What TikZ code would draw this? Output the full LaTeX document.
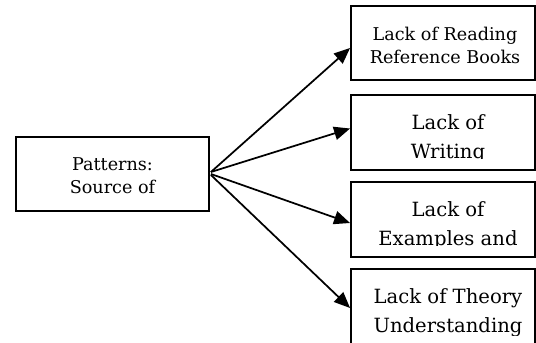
\documentclass[tikz,border=0pt]{standalone}
\usepackage{fontspec}
\setmainfont{DejaVu Serif}
\usetikzlibrary{arrows.meta,calc}
\begin{document}
\begin{tikzpicture}[x=0.75pt,y=-0.75pt,
  box/.style={draw,line width=1.4pt,minimum width=138pt,minimum height=56pt,inner sep=0pt},
  small/.style={font=\fontsize{13.2}{17.25}\selectfont,align=center,anchor=base,inner sep=0pt},
  big/.style={font=\fontsize{14.7}{21.5}\selectfont,align=center,anchor=base,inner sep=0pt},
  arr/.style={line width=1.3pt,-{Triangle[length=12pt,width=10pt]}}]
\useasboundingbox (0,0) rectangle (536,343);
% source
\node[box,minimum width=144.75pt,minimum height=55.5pt] (src) at (112.5,174) {};
\node[small] (srct) at (112.5,193) {Patterns:\\Source of};
% targets
\node[box] (b1) at (443,43) {};
\node[small] (t1) at (445,63) {Lack of Reading\\Reference Books};
\node[box] (b2) at (443,132.5) {};
\begin{scope}
  \clip (351,95) rectangle (535,158);
  \node[big] (t2) at (448,158.5) {Lack of\\Writing};
\end{scope}
\node[box] (b3) at (443,219.5) {};
\begin{scope}
  \clip (351,182) rectangle (535,245);
  \node[big] (t3) at (448,245) {Lack of\\Examples and};
\end{scope}
\node[box,minimum height=57pt] (b4) at (443,307) {};
\begin{scope}
  \clip (351,269) rectangle (535,335);
  \node[big] (t4) at (448,332) {Lack of Theory\\Understanding};
\end{scope}
% connectors
\draw[arr] ($(src.east)+(1,-2)$) -- ($(b1.west)+(0,5)$);
\draw[arr] ($(src.east)+(1,-2)$) -- ($(b2.west)+(0,-4)$);
\draw[arr] ($(src.east)+(1,0)$) -- ($(b3.west)+(0,3.5)$);
\draw[arr] ($(src.east)+(1,1)$) -- ($(b4.west)+(0,1)$);
\end{tikzpicture}
\end{document}
